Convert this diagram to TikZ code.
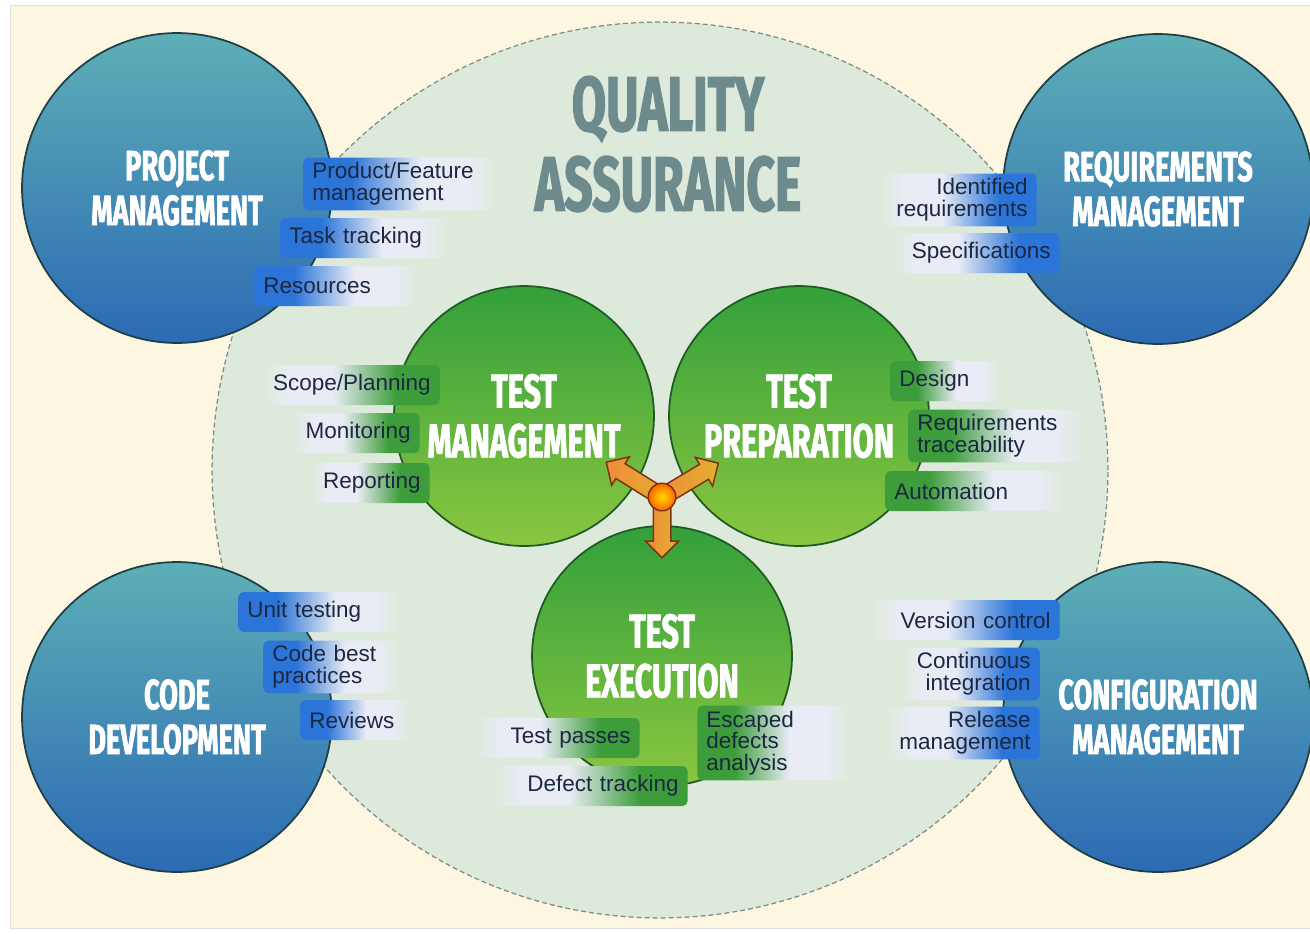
\documentclass[tikz,border=0pt]{standalone}
\usepackage{fontspec}
\setmainfont{Liberation Sans}
\newfontfamily\headfont{Fira Sans}[FakeStretch=0.645, BoldFeatures={FakeBold=1.6}]
\usetikzlibrary{positioning,shapes.arrows}

\definecolor{qaCream}{HTML}{FDF7E2}
\definecolor{qaFill}{HTML}{DDE9DA}
\definecolor{qaDash}{HTML}{7F8C88}
\definecolor{qaTitle}{HTML}{6D8B8C}
\definecolor{outTop}{HTML}{5DAFB6}
\definecolor{outBottom}{HTML}{2C6AB4}
\definecolor{outEdge}{HTML}{1F3E45}
\definecolor{inTop}{HTML}{33A03B}
\definecolor{inBottom}{HTML}{8AC640}
\definecolor{inEdge}{HTML}{1E5B22}
\definecolor{tagBlue}{HTML}{2B74D8}
\definecolor{tagGreen}{HTML}{3C9D3A}
\definecolor{tagPale}{HTML}{E9ECF5}
\definecolor{tagText}{HTML}{1C2742}
\definecolor{hubOrange}{HTML}{F08A3E}
\definecolor{hubGold}{HTML}{E2B12C}
\definecolor{hubEdge}{HTML}{7A3510}

% fading tag shadings (coloured end on the left)
\pgfdeclarehorizontalshading{tagBlueFade}{100bp}{color(0bp)=(tagBlue); color(37bp)=(tagBlue);
  color(55bp)=(tagPale); color(67bp)=(tagPale); color(75bp)=(qaFill); color(100bp)=(qaFill)}
\pgfdeclarehorizontalshading{tagGreenFade}{100bp}{color(0bp)=(tagGreen); color(37bp)=(tagGreen);
  color(55bp)=(tagPale); color(67bp)=(tagPale); color(75bp)=(qaFill); color(100bp)=(qaFill)}

\tikzset{
  bigcirc/.style={circle, inner sep=0pt, line width=0.035cm, text=white, align=center},
  outer/.style={bigcirc, minimum size=6.2cm, draw=outEdge, top color=outTop, bottom color=outBottom,
    font=\headfont\bfseries\fontsize{24}{25.5}\selectfont},
  inner/.style={bigcirc, minimum size=5.2cm, draw=inEdge, top color=inTop, bottom color=inBottom,
    font=\headfont\bfseries\fontsize{27}{28.3}\selectfont},
  tag/.style={rounded corners=0.1cm, inner xsep=0.18cm, inner ysep=0.1cm, minimum height=0.8cm,
    text=tagText, font=\fontsize{12.8}{12.4}\selectfont, shade},
  tagBL/.style={tag, shading=tagBlueFade, text width=#1, align=left, anchor=west},
  tagBR/.style={tag, shading=tagBlueFade, shading angle=180, text width=#1, align=right, anchor=east},
  tagGL/.style={tag, shading=tagGreenFade, text width=#1, align=left, anchor=west},
  tagGR/.style={tag, shading=tagGreenFade, shading angle=180, text width=#1, align=right, anchor=east},
  hubArrow/.style={single arrow, anchor=tail, minimum height=1.3cm, minimum width=0.64cm,
    single arrow head extend=0.16cm, inner xsep=0pt, inner ysep=0.16cm, draw=hubEdge,
    line width=0.03cm, left color=hubOrange, right color=hubGold}
}

\begin{document}
\begin{tikzpicture}[x=0.02cm, y=-0.02cm]
  \useasboundingbox (0,0) rectangle (1310,933);
  \fill[white] (0,0) rectangle (1310,933);
  \fill[qaCream, draw=gray!25] (10,5) rectangle (1310,928);

  % quality assurance area
  \node[circle, minimum size=17.92cm, fill=qaFill, draw=qaDash, line width=0.025cm,
    dash pattern=on 0.1cm off 0.06cm] (qa) at (660,470) {};
  \node[font=\headfont\bfseries\fontsize{44}{45.5}\selectfont, text=qaTitle, align=center]
    (qaTitle) at (668,144) {QUALITY\\ASSURANCE};

  % outer areas
  \node[outer] (pm) at (177,188) {PROJECT\\MANAGEMENT};
  \node[outer] (rm) at (1158,189) {REQUIREMENTS\\MANAGEMENT};
  \node[outer] (cd) at (177,717) {CODE\\DEVELOPMENT};
  \node[outer] (cm) at (1158,717) {CONFIGURATION\\MANAGEMENT};

  % test activities
  \node[inner] (tm) at (524,416) {TEST\\MANAGEMENT};
  \node[inner] (tp) at (799,416) {TEST\\PREPARATION};
  \node[inner] (te) at (662,656) {TEST\\EXECUTION};

  % hub with three arrows
  \coordinate (hubc) at (662,497);
  \node[hubArrow, rotate=148] (arTM) at (hubc) {};
  \node[hubArrow, rotate=31] (arTP) at (hubc) {};
  \node[hubArrow, rotate=270, minimum height=1.2cm] (arTE) at (hubc) {};
  \node[circle, minimum size=0.55cm, inner sep=0pt, draw=hubEdge, line width=0.03cm,
    inner color=yellow!70!orange, outer color=orange!80!red] (hub) at (hubc) {};

  % project management tags
  \node[tagBL=3.58cm] (pmProd) at (303,184) {Product/Feature\\management};
  \node[tagBL=3.04cm] (pmTask) at (280,238) {Task tracking};
  \node[tagBL=2.96cm] (pmRes) at (254,286) {Resources};

  % requirements management tags
  \node[tagBR=2.8cm] (rmIdent) at (1037,200) {Identified\\requirements};
  \node[tagBR=3.04cm] (rmSpec) at (1060,253) {Specifications};

  % test management tags
  \node[tagGR=3.2cm] (tmScope) at (440,385) {Scope/Planning};
  \node[tagGR=2.2cm] (tmMon) at (420,433) {Monitoring};
  \node[tagGR=2.06cm] (tmRep) at (430,483) {Reporting};

  % test preparation tags
  \node[tagGL=1.84cm] (tpDesign) at (890,381) {Design};
  \node[tagGL=3.18cm] (tpTrace) at (908,436) {Requirements\\traceability};
  \node[tagGL=3.24cm] (tpAuto) at (885,491) {Automation};

  % code development tags
  \node[tagBL=2.88cm] (cdUnit) at (238,612) {Unit testing};
  \node[tagBL=2.38cm] (cdBest) at (263,667) {Code best\\practices};
  \node[tagBL=1.84cm] (cdRev) at (300,720) {Reviews};

  % test execution tags
  \node[tagGR=2.94cm] (tePass) at (640,738) {Test passes};
  \node[tagGR=3.6cm] (teDefect) at (688,786) {Defect tracking};
  \node[tagGL=2.7cm] (teEscaped) at (697,743) {Escaped\\defects\\analysis};

  % configuration management tags
  \node[tagBR=3.44cm] (cmVer) at (1060,620) {Version control};
  \node[tagBR=2.44cm] (cmCI) at (1040,674) {Continuous\\integration};
  \node[tagBR=2.74cm] (cmRel) at (1040,733) {Release\\management};
\end{tikzpicture}
\end{document}
